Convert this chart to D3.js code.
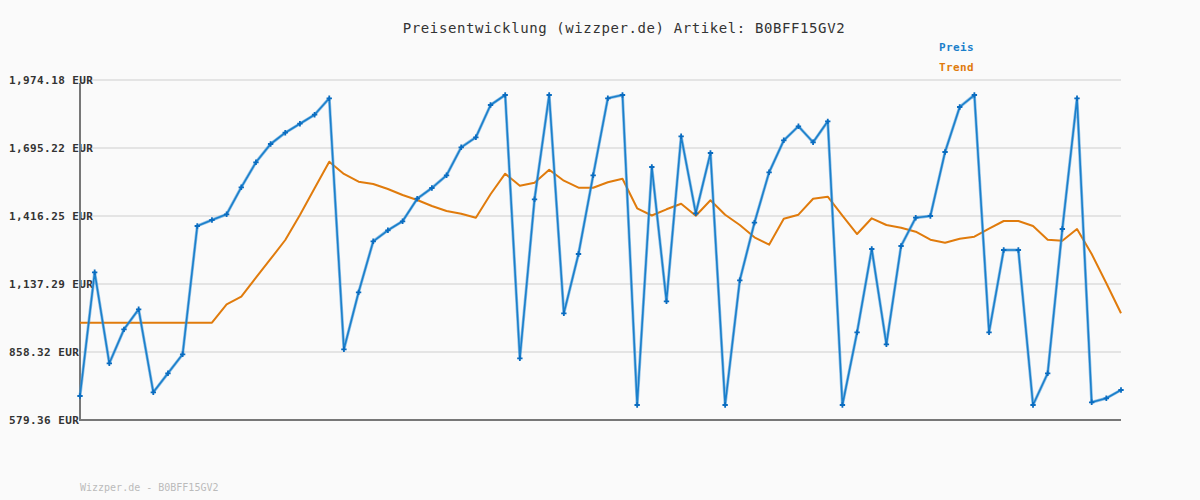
<!DOCTYPE html>
<html>
<head>
<meta charset="utf-8">
<script src="https://cdn.jsdelivr.net/npm/d3@7"></script>
<style>
  html, body { margin: 0; padding: 0; background: #fafafa; }
  svg { display: block; }
</style>
</head>
<body>
<svg id="chart" width="1200" height="500"></svg>
<script>
const titleText = "Preisentwicklung (wizzper.de) Artikel: B0BFF15GV2";
const footerText = "Wizzper.de - B0BFF15GV2";
const seriesNames = ["Preis", "Trend"];
const seriesColors = ["#1a7fcb", "#e07b0c"];

const yTickValues = [579.36, 858.32, 1137.29, 1416.25, 1695.22, 1974.18];
const yTickLabels = ["579.36 EUR", "858.32 EUR", "1,137.29 EUR", "1,416.25 EUR", "1,695.22 EUR", "1,974.18 EUR"];

const preis = [
  677.8, 1185.3, 812.0, 951.4, 1033.5, 693.0, 771.0, 848.9, 1375.3, 1399.8,
  1423.2, 1534.0, 1636.6, 1711.6, 1758.0, 1794.9, 1831.8, 1899.1, 869.4, 1103.2,
  1312.5, 1357.6, 1394.5, 1487.2, 1531.1, 1583.2, 1698.1, 1739.1, 1871.6, 1912.6,
  832.5, 1484.8, 1912.6, 1017.1, 1260.4, 1583.2, 1899.1, 1912.6, 640.9, 1617.3,
  1066.3, 1743.2, 1427.3, 1674.7, 640.9, 1152.5, 1388.8, 1595.5, 1726.8, 1784.3,
  1718.6, 1804.7, 640.9, 939.1, 1280.9, 889.9, 1293.2, 1409.3, 1416.3, 1678.8,
  1863.4, 1912.6, 939.1, 1276.8, 1276.8, 640.9, 771.0, 1362.9, 1899.1, 652.0,
  668.4, 702.4
];

const trend = [
  978.5, 978.5, 978.5, 978.5, 978.5, 978.5, 978.5, 978.5, 978.5, 978.5,
  1054.0, 1085.2, 1163.2, 1239.9, 1317.8, 1420.4, 1529.9, 1639.1, 1588.6, 1557.0,
  1547.6, 1527.0, 1502.4, 1481.9, 1457.3, 1436.8, 1425.7, 1409.3, 1505.3, 1589.8,
  1540.6, 1552.9, 1606.2, 1561.1, 1532.4, 1532.4, 1554.5, 1569.3, 1447.8, 1418.3,
  1443.7, 1466.7, 1417.5, 1480.7, 1421.6, 1379.3, 1328.9, 1298.5, 1405.2, 1421.6,
  1487.2, 1495.4, 1417.5, 1342.4, 1406.8, 1379.3, 1368.2, 1351.8, 1319.0, 1306.7,
  1323.1, 1331.3, 1364.1, 1395.7, 1395.7, 1375.2, 1319.0, 1314.9, 1362.9, 1260.4,
  1140.2, 1017.1
];

(function () {
const svg = d3.select("#chart");
const W = 1200, H = 500;
const plotLeft = 80, plotRight = 1121, plotTop = 80, plotBottom = 420;
const mono = "'DejaVu Sans Mono', 'Liberation Mono', monospace";

svg.append("rect").attr("width", W).attr("height", H).attr("fill", "#fafafa");

const x = d3.scaleLinear().domain([0, preis.length - 1]).range([plotLeft, plotRight]);
const y = d3.scaleLinear().domain([yTickValues[0], yTickValues[yTickValues.length - 1]]).range([plotBottom, plotTop]);

// gridlines
svg.append("g")
  .selectAll("line")
  .data(yTickValues.slice(1))
  .join("line")
  .attr("x1", plotLeft).attr("x2", plotRight)
  .attr("y1", d => y(d)).attr("y2", d => y(d))
  .attr("stroke", "#e4e4e4").attr("stroke-width", 2);

// y labels
svg.append("g")
  .selectAll("text")
  .data(yTickValues)
  .join("text")
  .attr("x", 9)
  .attr("y", d => y(d))
  .attr("dy", "0.35em")
  .attr("font-family", mono)
  .attr("font-size", 11)
  .attr("font-weight", "bold")
  .attr("letter-spacing", 0.4)
  .attr("fill", "#333")
  .text((d, i) => yTickLabels[i]);

// axes
svg.append("line").attr("x1", plotLeft).attr("x2", plotLeft).attr("y1", 83).attr("y2", plotBottom + 1)
  .attr("stroke", "#777").attr("stroke-width", 2);
svg.append("line").attr("x1", plotLeft - 1).attr("x2", plotRight).attr("y1", plotBottom).attr("y2", plotBottom)
  .attr("stroke", "#777").attr("stroke-width", 2);

const line = d3.line().x((d, i) => x(i)).y(d => y(d));

// trend
svg.append("path").datum(trend)
  .attr("d", line)
  .attr("fill", "none")
  .attr("stroke", seriesColors[1])
  .attr("stroke-width", 2)
  .attr("stroke-linejoin", "round");

// preis
svg.append("path").datum(preis)
  .attr("d", line)
  .attr("fill", "none")
  .attr("stroke", "#4a9ad8")
  .attr("stroke-opacity", 0.6)
  .attr("stroke-width", 3)
  .attr("stroke-linejoin", "round");
svg.append("path").datum(preis)
  .attr("d", line)
  .attr("fill", "none")
  .attr("stroke", seriesColors[0])
  .attr("stroke-width", 1.6)
  .attr("stroke-linejoin", "round");

// markers
const sym = d3.symbol().type(d3.symbolCross).size(16);
svg.append("g")
  .selectAll("path")
  .data(preis)
  .join("path")
  .attr("transform", (d, i) => `translate(${x(i)},${y(d)})`)
  .attr("d", sym)
  .attr("fill", "#0a6cc0");

// title
svg.append("text")
  .attr("x", 624).attr("y", 33)
  .attr("text-anchor", "middle")
  .attr("font-family", mono)
  .attr("font-size", 14)
  .attr("letter-spacing", 0.6)
  .attr("fill", "#333")
  .text(titleText);

// legend
svg.append("g")
  .selectAll("text")
  .data(seriesNames)
  .join("text")
  .attr("x", 939)
  .attr("y", (d, i) => 51 + i * 20)
  .attr("font-family", mono)
  .attr("font-size", 11)
  .attr("font-weight", "bold")
  .attr("letter-spacing", 0.4)
  .attr("fill", (d, i) => seriesColors[i])
  .text(d => d);

// footer
svg.append("text")
  .attr("x", 80).attr("y", 491)
  .attr("font-family", mono)
  .attr("font-size", 10)
  .attr("fill", "#bbb")
  .text(footerText);
})();
</script>
</body>
</html>
